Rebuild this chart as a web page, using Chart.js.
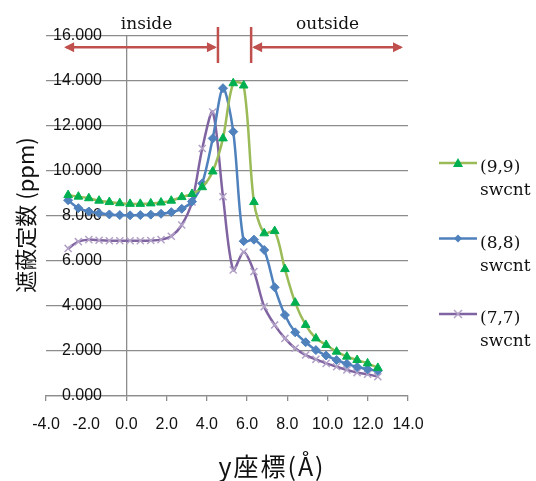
<!DOCTYPE html>
<html>
<head>
<meta charset="utf-8">
<script src="https://cdn.jsdelivr.net/npm/chart.js@4.4.1/dist/chart.umd.min.js"></script>
<style>
  body { margin: 0; background: #fff; }
</style>
</head>
<body>
<canvas id="shieldChart" width="536" height="481"></canvas>
<script>
// y coordinate (angstrom) of each computed point
const yCoord = [-2.9, -2.39, -1.87, -1.36, -0.85, -0.33, 0.18, 0.69, 1.21, 1.72,
  2.23, 2.75, 3.26, 3.77, 4.29, 4.8, 5.31, 5.83, 6.34, 6.85,
  7.37, 7.88, 8.39, 8.91, 9.42, 9.93, 10.45, 10.96, 11.47, 11.99, 12.5]

// shielding constant (ppm)
const cnt99 = [8.93, 8.86, 8.79, 8.68, 8.62, 8.57, 8.54, 8.54, 8.56, 8.6,
  8.68, 8.84, 8.98, 9.28, 9.98, 11.45, 13.9, 13.8, 8.62, 7.23,
  7.33, 5.64, 4.15, 3.16, 2.56, 2.27, 1.97, 1.75, 1.6, 1.45, 1.25]
const cnt88 = [8.7, 8.35, 8.2, 8.12, 8.07, 8.04, 8.03, 8.04, 8.06, 8.1,
  8.17, 8.32, 8.64, 9.45, 11.45, 13.68, 11.75, 6.88, 6.95, 6.49,
  4.83, 3.6, 2.83, 2.39, 2.04, 1.8, 1.6, 1.43, 1.29, 1.19, 1.12]
const cnt77 = [6.56, 6.86, 6.95, 6.92, 6.9, 6.9, 6.9, 6.9, 6.91, 6.95,
  7.1, 7.6, 8.62, 11.0, 12.62, 8.86, 5.6, 6.4, 5.53, 3.97,
  3.16, 2.56, 2.12, 1.82, 1.63, 1.45, 1.3, 1.16, 1.04, 0.97, 0.86]

const seriesNames = ["(9,9) swcnt", "(8,8) swcnt", "(7,7) swcnt"]

// axis ranges
const xRange = [-4, 14], xStep = 2
const yRange = [0, 16], yStep = 2

// inside / outside marks
const regionNames = ["inside", "outside"]
const regionNameX = [1.0, 10.0]
const insideArrow = [-3.1, 4.5]
const outsideArrow = [6.25, 13.75]
const borderMarks = [4.55, 6.2]

const toPoints = arr => yCoord.map((x, i) => ({ x: x, y: arr[i] }))

const GRAY = '#8c8c8c'

function drawMarker(ctx, style, x, y, fill, stroke) {
  ctx.save()
  ctx.fillStyle = fill
  ctx.strokeStyle = stroke
  ctx.lineWidth = 1.5
  ctx.beginPath()
  if (style == 'triangle') {
    ctx.moveTo(x, y - 5); ctx.lineTo(x + 5, y + 4); ctx.lineTo(x - 5, y + 4); ctx.closePath()
    ctx.fill()
  } else if (style == 'rectRot') {
    ctx.moveTo(x, y - 4); ctx.lineTo(x + 4, y); ctx.lineTo(x, y + 4); ctx.lineTo(x - 4, y); ctx.closePath()
    ctx.fill()
  } else {
    ctx.moveTo(x - 4, y - 4); ctx.lineTo(x + 4, y + 4)
    ctx.moveTo(x + 4, y - 4); ctx.lineTo(x - 4, y + 4)
    ctx.stroke()
  }
  ctx.restore()
}

const extras = {
  id: 'extras',
  afterDraw(chart) {
    const ctx = chart.ctx
    const xs = chart.scales.x, ys = chart.scales.y
    const red = '#C0504D'

    // arrows
    ctx.save()
    ctx.strokeStyle = red
    ctx.fillStyle = red
    ctx.lineWidth = 2.5
    const ay = ys.getPixelForValue(15.5)
    const arrow = (a, b) => {
      const x1 = xs.getPixelForValue(a), x2 = xs.getPixelForValue(b)
      ctx.beginPath(); ctx.moveTo(x1 + 2, ay); ctx.lineTo(x2 - 2, ay); ctx.stroke()
      ctx.beginPath(); ctx.moveTo(x1, ay); ctx.lineTo(x1 + 10, ay - 5); ctx.lineTo(x1 + 10, ay + 5); ctx.closePath(); ctx.fill()
      ctx.beginPath(); ctx.moveTo(x2, ay); ctx.lineTo(x2 - 10, ay - 5); ctx.lineTo(x2 - 10, ay + 5); ctx.closePath(); ctx.fill()
    }
    arrow(insideArrow[0], insideArrow[1])
    arrow(outsideArrow[0], outsideArrow[1])
    borderMarks.forEach(v => {
      const px = xs.getPixelForValue(v)
      ctx.beginPath()
      ctx.moveTo(px, ys.getPixelForValue(16.4))
      ctx.lineTo(px, ys.getPixelForValue(14.8))
      ctx.stroke()
    })
    ctx.fillStyle = '#111'
    ctx.font = '17px "DejaVu Serif"'
    ctx.textAlign = 'center'
    ctx.textBaseline = 'middle'
    regionNames.forEach((t, i) => {
      ctx.fillText(t, xs.getPixelForValue(regionNameX[i]), ys.getPixelForValue(16.5))
    })
    ctx.restore()

    // legend
    ctx.save()
    chart.data.datasets.forEach((ds, i) => {
      const ly = 163 + i * 75.5
      ctx.strokeStyle = ds.borderColor
      ctx.lineWidth = 2.5
      ctx.beginPath(); ctx.moveTo(439, ly); ctx.lineTo(477, ly); ctx.stroke()
      drawMarker(ctx, ds.pointStyle, 458, ly, ds.pointBackgroundColor, ds.pointBorderColor)
      const parts = ds.label.split(' ')
      ctx.fillStyle = '#111'
      ctx.font = '17px "DejaVu Serif"'
      ctx.textAlign = 'left'
      ctx.textBaseline = 'middle'
      ctx.fillText(parts[0], 480, ly + 5)
      ctx.fillText(parts[1], 480, ly + 28)
    })
    ctx.restore()

    // axis titles
    ctx.save()
    ctx.fillStyle = '#111'
    ctx.textAlign = 'center'
    ctx.textBaseline = 'middle'
    ctx.font = '25px "Noto Sans CJK JP"'
    ctx.letterSpacing = '2px'
    ctx.fillText('y座標(Å)', 272, 466)
    ctx.letterSpacing = '0px'
    ctx.translate(26, 215)
    ctx.rotate(-Math.PI / 2)
    ctx.font = '22px "Noto Sans CJK JP"'
    ctx.fillText('遮蔽定数 (ppm)', 0, 0)
    ctx.restore()
  }
}

const CHART = document.getElementById("shieldChart")

let shieldChart = new Chart(CHART, {
  type: 'scatter',
  data: {
    datasets: [
      {
        label: seriesNames[0],
        data: toPoints(cnt99),
        showLine: true,
        borderColor: '#9BBB59',
        borderWidth: 2.5,
        pointStyle: 'triangle',
        pointRadius: 5,
        pointBackgroundColor: '#00B050',
        pointBorderColor: '#00B050',
        pointBorderWidth: 1,
        tension: 0.3
      },
      {
        label: seriesNames[1],
        data: toPoints(cnt88),
        showLine: true,
        borderColor: '#4F81BD',
        borderWidth: 2.5,
        pointStyle: 'rectRot',
        pointRadius: 4.5,
        pointBackgroundColor: '#4F81BD',
        pointBorderColor: '#4F81BD',
        pointBorderWidth: 1,
        tension: 0.3
      },
      {
        label: seriesNames[2],
        data: toPoints(cnt77),
        showLine: true,
        borderColor: '#8064A2',
        borderWidth: 2.5,
        pointStyle: 'crossRot',
        pointRadius: 5,
        pointBackgroundColor: '#B3A2C7',
        pointBorderColor: '#B3A2C7',
        pointBorderWidth: 1.5,
        tension: 0.3
      }
    ]
  },
  options: {
    responsive: false,
    animation: false,
    devicePixelRatio: 1,
    layout: { padding: { left: 46, right: 128, top: 36, bottom: 0 } },
    plugins: {
      legend: { display: false },
      tooltip: { enabled: false }
    },
    scales: {
      x: {
        type: 'linear',
        min: xRange[0],
        max: xRange[1],
        afterFit: s => { s.height = 85 },
        ticks: {
          stepSize: xStep,
          padding: 14,
          color: '#111',
          font: { family: 'Liberation Sans', size: 16 },
          callback: v => v.toFixed(1)
        },
        // vertical axis line sits at x = 0
        grid: {
          drawOnChartArea: true,
          drawTicks: true,
          tickLength: 5,
          color: c => c.tick && c.tick.value === 0 ? GRAY : 'rgba(0,0,0,0)',
          tickColor: GRAY,
          lineWidth: 1.3
        },
        border: { color: GRAY, width: 1.3 }
      },
      y: {
        type: 'linear',
        position: 'left',
        min: yRange[0],
        max: yRange[1],
        afterFit: s => { s.width = 0 },
        ticks: {
          stepSize: yStep,
          mirror: true,
          crossAlign: 'far',
          padding: 7,
          color: '#111',
          font: { family: 'Liberation Sans', size: 16 },
          callback: v => v.toFixed(3)
        },
        grid: { color: GRAY, lineWidth: 1.3, drawTicks: false },
        border: { display: false }
      }
    }
  },
  plugins: [extras]
})
</script>
</body>
</html>
